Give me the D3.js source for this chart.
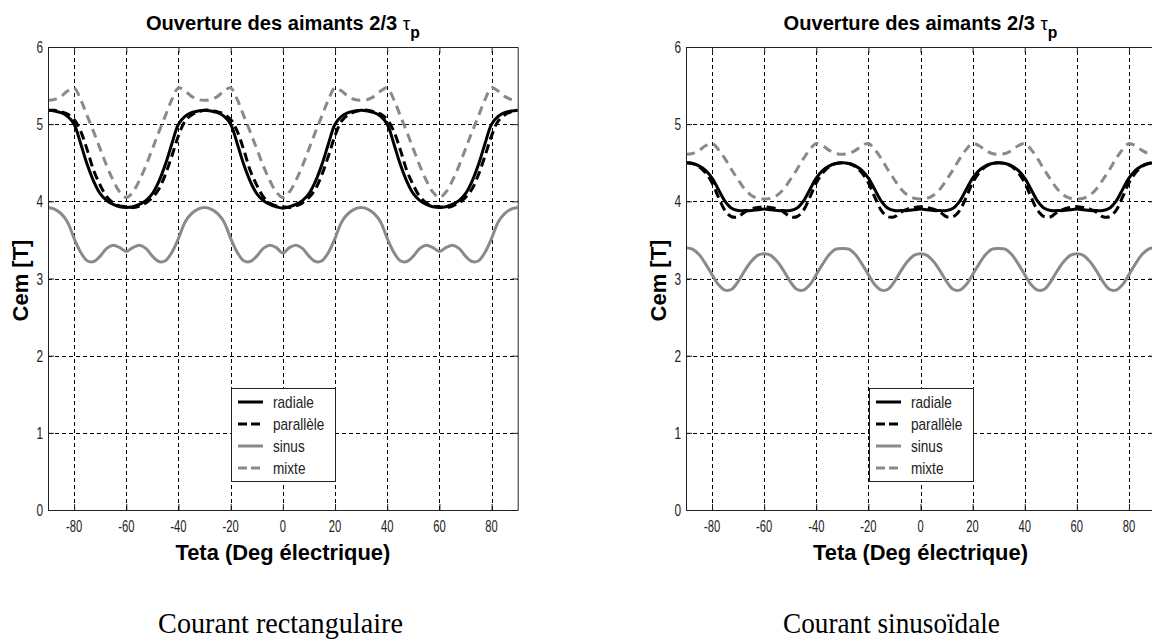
<!DOCTYPE html>
<html>
<head>
<meta charset="utf-8">
<script src="https://cdn.jsdelivr.net/npm/d3@7"></script>
<style>
  body { margin: 0; background: #fff; }
  svg { display: block; }
</style>
</head>
<body>
<svg id="chart" width="1152" height="641"></svg>
<script>
// Rotor angle, electrical degrees
const theta = [
  -90, -87.5, -85, -82.5, -80, -77.5, -75, -72.5, -70, -67.5, -65, -62.5, -60,
  -57.5, -55, -52.5, -50, -47.5, -45, -42.5, -40, -37.5, -35, -32.5, -30,
  -27.5, -25, -22.5, -20, -17.5, -15, -12.5, -10, -7.5, -5, -2.5, 0,
  2.5, 5, 7.5, 10, 12.5, 15, 17.5, 20, 22.5, 25, 27.5, 30,
  32.5, 35, 37.5, 40, 42.5, 45, 47.5, 50, 52.5, 55, 57.5, 60,
  62.5, 65, 67.5, 70, 72.5, 75, 77.5, 80, 82.5, 85, 87.5, 90
];

const seriesNames = ["radiale", "parallèle", "sinus", "mixte"];

// Electromagnetic torque (N.m) with rectangular current
const rectRadiale = [
  5.18, 5.17, 5.15, 5.10, 5.00, 4.75, 4.48, 4.26, 4.10, 4.01, 3.96, 3.93, 3.92,
  3.93, 3.96, 4.01, 4.10, 4.26, 4.48, 4.75, 5.00, 5.10, 5.15, 5.17, 5.18,
  5.17, 5.15, 5.10, 5.00, 4.75, 4.48, 4.26, 4.10, 4.01, 3.96, 3.93, 3.91,
  3.93, 3.96, 4.01, 4.10, 4.26, 4.48, 4.75, 5.00, 5.10, 5.15, 5.17, 5.18,
  5.17, 5.15, 5.10, 5.00, 4.75, 4.48, 4.26, 4.10, 4.01, 3.96, 3.93, 3.92,
  3.93, 3.96, 4.01, 4.10, 4.26, 4.48, 4.75, 5.00, 5.10, 5.15, 5.17, 5.18
];
const rectParallele = [
  5.18, 5.18, 5.16, 5.13, 5.06, 4.91, 4.67, 4.40, 4.21, 4.06, 3.98, 3.94, 3.93,
  3.92, 3.94, 3.98, 4.05, 4.16, 4.35, 4.59, 4.85, 5.04, 5.12, 5.16, 5.18,
  5.18, 5.16, 5.13, 5.06, 4.91, 4.67, 4.40, 4.21, 4.06, 3.98, 3.94, 3.93,
  3.92, 3.94, 3.98, 4.05, 4.16, 4.35, 4.59, 4.85, 5.04, 5.12, 5.16, 5.18,
  5.18, 5.16, 5.13, 5.06, 4.91, 4.67, 4.40, 4.21, 4.06, 3.98, 3.94, 3.93,
  3.92, 3.94, 3.98, 4.05, 4.16, 4.35, 4.59, 4.85, 5.04, 5.12, 5.16, 5.18
];
const rectSinus = [
  3.92, 3.90, 3.84, 3.73, 3.52, 3.34, 3.23, 3.22, 3.29, 3.39, 3.43, 3.40, 3.35,
  3.40, 3.43, 3.39, 3.29, 3.22, 3.23, 3.34, 3.52, 3.73, 3.84, 3.90, 3.92,
  3.90, 3.84, 3.73, 3.52, 3.34, 3.23, 3.22, 3.29, 3.39, 3.43, 3.40, 3.33,
  3.40, 3.43, 3.39, 3.29, 3.22, 3.23, 3.34, 3.52, 3.73, 3.84, 3.90, 3.92,
  3.90, 3.84, 3.73, 3.52, 3.34, 3.23, 3.22, 3.29, 3.39, 3.43, 3.40, 3.35,
  3.40, 3.43, 3.39, 3.29, 3.22, 3.23, 3.34, 3.52, 3.73, 3.84, 3.90, 3.92
];
const rectMixte = [
  5.31, 5.32, 5.36, 5.43, 5.47, 5.32, 5.11, 4.90, 4.68, 4.46, 4.27, 4.12, 4.05,
  4.12, 4.27, 4.46, 4.68, 4.90, 5.11, 5.32, 5.47, 5.43, 5.36, 5.32, 5.31,
  5.32, 5.36, 5.43, 5.47, 5.32, 5.11, 4.90, 4.68, 4.46, 4.27, 4.12, 4.05,
  4.12, 4.27, 4.46, 4.68, 4.90, 5.11, 5.32, 5.47, 5.43, 5.36, 5.32, 5.31,
  5.32, 5.36, 5.43, 5.47, 5.32, 5.11, 4.90, 4.68, 4.46, 4.27, 4.12, 4.05,
  4.12, 4.27, 4.46, 4.68, 4.90, 5.11, 5.32, 5.47, 5.43, 5.36, 5.32, 5.31
];

// Electromagnetic torque (N.m) with sinusoidal current
const sinRadiale = [
  4.50, 4.49, 4.46, 4.40, 4.30, 4.15, 4.00, 3.91, 3.88, 3.88, 3.88, 3.89, 3.90,
  3.89, 3.88, 3.88, 3.88, 3.91, 4.00, 4.15, 4.30, 4.40, 4.46, 4.49, 4.50,
  4.49, 4.46, 4.40, 4.30, 4.15, 4.00, 3.91, 3.88, 3.88, 3.88, 3.89, 3.90,
  3.89, 3.88, 3.88, 3.88, 3.91, 4.00, 4.15, 4.30, 4.40, 4.46, 4.49, 4.50,
  4.49, 4.46, 4.40, 4.30, 4.15, 4.00, 3.91, 3.88, 3.88, 3.88, 3.89, 3.90,
  3.89, 3.88, 3.88, 3.88, 3.91, 4.00, 4.15, 4.30, 4.40, 4.46, 4.49, 4.50
];
const sinParallele = [
  4.50, 4.49, 4.45, 4.37, 4.24, 4.05, 3.88, 3.80, 3.80, 3.86, 3.90, 3.92, 3.93,
  3.92, 3.90, 3.86, 3.80, 3.80, 3.88, 4.05, 4.24, 4.37, 4.45, 4.49, 4.50,
  4.49, 4.45, 4.37, 4.24, 4.05, 3.88, 3.80, 3.80, 3.86, 3.90, 3.92, 3.93,
  3.92, 3.90, 3.86, 3.80, 3.80, 3.88, 4.05, 4.24, 4.37, 4.45, 4.49, 4.50,
  4.49, 4.45, 4.37, 4.24, 4.05, 3.88, 3.80, 3.80, 3.86, 3.90, 3.92, 3.93,
  3.92, 3.90, 3.86, 3.80, 3.80, 3.88, 4.05, 4.24, 4.37, 4.45, 4.49, 4.50
];
const sinSinus = [
  3.40, 3.38, 3.31, 3.19, 3.05, 2.92, 2.85, 2.86, 2.96, 3.10, 3.22, 3.30, 3.32,
  3.30, 3.22, 3.10, 2.96, 2.86, 2.85, 2.92, 3.05, 3.19, 3.31, 3.38, 3.39,
  3.38, 3.31, 3.19, 3.05, 2.92, 2.85, 2.86, 2.96, 3.10, 3.22, 3.30, 3.32,
  3.30, 3.22, 3.10, 2.96, 2.86, 2.85, 2.92, 3.05, 3.19, 3.31, 3.38, 3.39,
  3.38, 3.31, 3.19, 3.05, 2.92, 2.85, 2.86, 2.96, 3.10, 3.22, 3.30, 3.32,
  3.30, 3.22, 3.10, 2.96, 2.86, 2.85, 2.92, 3.05, 3.19, 3.31, 3.38, 3.40
];
const sinMixte = [
  4.61, 4.62, 4.66, 4.72, 4.75, 4.67, 4.55, 4.41, 4.28, 4.16, 4.08, 4.04, 4.03,
  4.04, 4.08, 4.16, 4.28, 4.41, 4.55, 4.67, 4.75, 4.72, 4.66, 4.62, 4.61,
  4.62, 4.66, 4.72, 4.75, 4.67, 4.55, 4.41, 4.28, 4.16, 4.08, 4.04, 4.03,
  4.04, 4.08, 4.16, 4.28, 4.41, 4.55, 4.67, 4.75, 4.72, 4.66, 4.62, 4.61,
  4.62, 4.66, 4.72, 4.75, 4.67, 4.55, 4.41, 4.28, 4.16, 4.08, 4.04, 4.03,
  4.04, 4.08, 4.16, 4.28, 4.41, 4.55, 4.67, 4.75, 4.72, 4.66, 4.62, 4.61
];

const xTicks = [-80, -60, -40, -20, 0, 20, 40, 60, 80];
const yTicks = [0, 1, 2, 3, 4, 5, 6];
const titleMain = "Ouverture des aimants 2/3 ";
const titleSymbol = "τ";
const titleSub = "p";
const xLabel = "Teta (Deg électrique)";
const yLabel = "Cem [T]";
const captions = ["Courant rectangulaire", "Courant sinusoïdale"];

// ---- drawing ----
const svg = d3.select("#chart");
const SANS = "'Liberation Sans', Arial, Helvetica, sans-serif";
const SERIF = "'Liberation Serif', 'Times New Roman', serif";

const styles = [
  { color: "#000", dash: null },
  { color: "#000", dash: "9,5" },
  { color: "#8a8a8a", dash: null },
  { color: "#8a8a8a", dash: "9,6" }
];

const panels = [
  { x0: 48, x1: 517.7, series: [rectRadiale, rectParallele, rectSinus, rectMixte],
    caption: captions[0], capX: 280.5, capW: 245 },
  { x0: 686, x1: 1155, series: [sinRadiale, sinParallele, sinSinus, sinMixte],
    caption: captions[1], capX: 891.5, capW: 217 }
];
const yTop = 47, yBot = 510;

// horizontally squeeze a text node so it spans the requested width
function fit(g, width) {
  const t = g.select("text");
  const w = t.node().getComputedTextLength();
  const tr = g.attr("transform") || "";
  g.attr("transform", tr + ` scale(${width / w},1)`);
}

panels.forEach((p, pi) => {
  const x = d3.scaleLinear().domain([-90, 90]).range([p.x0, p.x1]);
  const y = d3.scaleLinear().domain([0, 6]).range([yBot, yTop]);
  const g = svg.append("g");

  const clipId = "clip" + pi;
  svg.append("clipPath").attr("id", clipId)
    .append("rect").attr("x", p.x0).attr("y", yTop)
    .attr("width", p.x1 - p.x0).attr("height", yBot - yTop);

  // grid
  const grid = g.append("g").attr("stroke", "#000").attr("stroke-width", 1)
    .attr("stroke-dasharray", "4,3").attr("shape-rendering", "crispEdges");
  grid.selectAll(".gx").data(xTicks).join("line")
    .attr("x1", d => Math.round(x(d)) + 0.5).attr("x2", d => Math.round(x(d)) + 0.5)
    .attr("y1", yBot).attr("y2", yTop);
  grid.selectAll(".gy").data(yTicks.slice(1, -1)).join("line")
    .attr("y1", d => Math.round(y(d)) + 0.5).attr("y2", d => Math.round(y(d)) + 0.5)
    .attr("x1", p.x0).attr("x2", p.x1);

  // curves
  const lines = g.append("g").attr("clip-path", `url(#${clipId})`);
  p.series.forEach((vals, si) => {
    const line = d3.line()
      .x((d, i) => x(theta[i]))
      .y(d => y(d))
      .curve(d3.curveCatmullRom.alpha(0.5));
    lines.append("path")
      .attr("d", line(vals))
      .attr("fill", "none")
      .attr("stroke", styles[si].color)
      .attr("stroke-width", 3)
      .attr("stroke-dasharray", styles[si].dash)
      .attr("stroke-linejoin", "round");
  });

  // axes with inward ticks
  const xAxis = d3.axisBottom(x).tickValues(xTicks).tickSizeInner(-6).tickSizeOuter(0).tickFormat("");
  const yAxis = d3.axisLeft(y).tickValues(yTicks).tickSizeInner(-6).tickSizeOuter(0).tickFormat("");
  const axStyle = a => a.call(s => s.selectAll("line,path").attr("stroke", "#222").attr("stroke-width", 1));
  g.append("g").attr("transform", `translate(0,${yBot})`).call(xAxis).call(axStyle);
  g.append("g").attr("transform", `translate(0,${yTop})`).call(d3.axisTop(x).tickValues(xTicks).tickSizeInner(-6).tickSizeOuter(0).tickFormat("")).call(axStyle);
  g.append("g").attr("transform", `translate(${p.x0},0)`).call(yAxis).call(axStyle);
  g.append("g").attr("transform", `translate(${p.x1},0)`).call(d3.axisRight(y).tickValues(yTicks).tickSizeInner(-6).tickSizeOuter(0).tickFormat("")).call(axStyle);

  // tick labels
  xTicks.forEach(v => {
    g.append("g").attr("transform", `translate(${x(v)},531.5) scale(0.68,1)`)
      .append("text").attr("text-anchor", "middle")
      .attr("font-family", SANS).attr("font-size", 16.5).attr("fill", "#222").text(v);
  });
  yTicks.forEach(v => {
    g.append("g").attr("transform", `translate(${p.x0 - 5},${y(v) + 6}) scale(0.72,1)`)
      .append("text").attr("text-anchor", "end")
      .attr("font-family", SANS).attr("font-size", 16.5).attr("fill", "#222").text(v);
  });

  const cx = (p.x0 + p.x1) / 2;

  // title
  const tg = g.append("g").attr("transform", `translate(${cx},30)`);
  const tt = tg.append("text").attr("text-anchor", "middle")
    .attr("font-family", SANS).attr("font-size", 20.5).attr("fill", "#000");
  tt.append("tspan").attr("font-weight", "bold").text(titleMain);
  tt.append("tspan").attr("font-size", 19).text(titleSymbol);
  tt.append("tspan").attr("font-weight", "bold").attr("font-size", 16).attr("dy", 8).text(titleSub);
  fit(tg, 274);

  // axis labels
  const xg = g.append("g").attr("transform", `translate(${cx},560)`);
  xg.append("text").attr("text-anchor", "middle").attr("font-family", SANS)
    .attr("font-weight", "bold").attr("font-size", 22.5).attr("fill", "#000").text(xLabel);
  fit(xg, 215);

  g.append("text")
    .attr("transform", `translate(${p.x0 - 20},${(yTop + yBot) / 2 + 2}) rotate(-90)`)
    .attr("text-anchor", "middle").attr("font-family", SANS)
    .attr("font-weight", "bold").attr("font-size", 22).attr("fill", "#000").text(yLabel);

  // legend
  const lx = p.x0 + 183, ly = 388;
  const lg = g.append("g");
  lg.append("rect").attr("x", lx + 0.5).attr("y", ly + 0.5).attr("width", 104).attr("height", 93)
    .attr("fill", "#fff").attr("stroke", "#222").attr("stroke-width", 1);
  seriesNames.forEach((name, si) => {
    const ry = ly + 14 + si * 22;
    lg.append("line").attr("x1", lx + 7).attr("x2", lx + 32).attr("y1", ry).attr("y2", ry)
      .attr("stroke", styles[si].color).attr("stroke-width", 3)
      .attr("stroke-dasharray", styles[si].dash ? "9,4" : null);
    lg.append("g").attr("transform", `translate(${lx + 42},${ry + 5.5}) scale(0.85,1)`)
      .append("text").attr("font-family", SANS).attr("font-size", 16).attr("fill", "#222").text(name);
  });

  // caption below the plot
  const cg = svg.append("g").attr("transform", `translate(${p.capX},633)`);
  cg.append("text").attr("text-anchor", "middle").attr("font-family", SERIF)
    .attr("font-size", 29).attr("fill", "#000").text(p.caption);
  fit(cg, p.capW);
});
</script>
</body>
</html>
